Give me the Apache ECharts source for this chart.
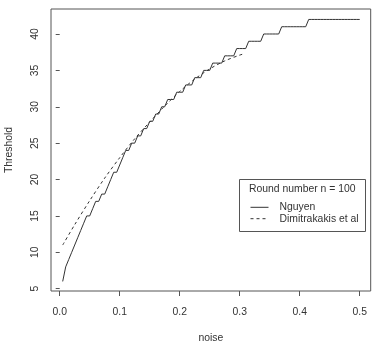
<!DOCTYPE html>
<html>
<head>
<meta charset="utf-8">
<script src="https://cdn.jsdelivr.net/npm/echarts@6/dist/echarts.min.js"></script>
<style>
html,body{margin:0;padding:0;background:#fff;}
#chart{width:377px;height:342px;}
</style>
</head>
<body>
<div id="chart"></div>
<script>
// ---- data ----
const noise = [
0.005,0.010,0.015,0.020,0.025,0.030,0.035,0.040,0.045,0.050,
0.055,0.060,0.065,0.070,0.075,0.080,0.085,0.090,0.095,0.100,
0.105,0.110,0.115,0.120,0.125,0.130,0.135,0.140,0.145,0.150,
0.155,0.160,0.165,0.170,0.175,0.180,0.185,0.190,0.195,0.200,
0.205,0.210,0.215,0.220,0.225,0.230,0.235,0.240,0.245,0.250,
0.255,0.260,0.265,0.270,0.275,0.280,0.285,0.290,0.295,0.300,
0.305,0.310,0.315,0.320,0.325,0.330,0.335,0.340,0.345,0.350,
0.355,0.360,0.365,0.370,0.375,0.380,0.385,0.390,0.395,0.400,
0.405,0.410,0.415,0.420,0.425,0.430,0.435,0.440,0.445,0.450,
0.455,0.460,0.465,0.470,0.475,0.480,0.485,0.490,0.495,0.500];
const nguyen = [
6,8,9,10,11,12,13,14,15,15,
16,17,17,18,18,19,20,21,21,22,
23,24,24,25,25,26,26,27,27,28,
28,29,29,30,30,31,31,31,32,32,
32,33,33,33,34,34,34,35,35,35,
36,36,36,36,37,37,37,37,38,38,
38,38,39,39,39,39,39,40,40,40,
40,40,40,41,41,41,41,41,41,41,
41,41,42,42,42,42,42,42,42,42,
42,42,42,42,42,42,42,42,42,42];
const dimNoise = [0.005,0.025,0.05,0.075,0.1,0.125,0.15,0.175,0.2,0.225,0.25,0.275,0.3,0.306];
const dimitrakakis = [11.0,13.8,17.1,20.2,23.0,25.6,27.9,30.1,32.1,33.8,35.2,36.3,37.1,37.25];
const xTicks = [0,0.1,0.2,0.3,0.4,0.5];
const yTicks = [5,10,15,20,25,30,35,40];
const seriesNames = ['Nguyen','Dimitrakakis et al'];
const legendTitle = 'Round number n = 100';

const FONT = '"Liberation Sans", Arial, sans-serif';
const TXT = '#333';
const chart = echarts.init(document.getElementById('chart'), null, {renderer:'canvas'});
chart.setOption({
  animation:false,
  backgroundColor:'#fff',
  textStyle:{fontFamily:FONT},
  title:{
    text:legendTitle, left:249, top:183.5, padding:0,
    textStyle:{fontSize:10.4, fontWeight:'normal', color:TXT, fontFamily:FONT, lineHeight:12}
  },
  grid:{left:51, top:9, right:6.3, bottom:51, show:true, borderColor:'#555', borderWidth:1,
        backgroundColor:'transparent', containLabel:false, outerBoundsMode:'none'},
  xAxis:{
    type:'value', min:-0.0145, max:0.5183,
    name:'noise', nameLocation:'middle', nameGap:42,
    nameTextStyle:{fontSize:10.4, color:TXT, fontFamily:FONT},
    axisLine:{show:false},
    axisTick:{show:true, length:5, customValues:xTicks, lineStyle:{color:'#555'}},
    axisLabel:{customValues:xTicks, margin:16, fontSize:10.4, color:TXT, fontFamily:FONT,
      formatter:v=>v.toFixed(1)},
    splitLine:{show:false}
  },
  yAxis:{
    type:'value', min:4.684, max:43.435,
    name:'Threshold', nameLocation:'middle', nameGap:37,
    nameTextStyle:{fontSize:10.4, color:TXT, fontFamily:FONT},
    axisLine:{show:false},
    axisTick:{show:true, length:4, customValues:yTicks, lineStyle:{color:'#555'}},
    axisLabel:{customValues:yTicks, rotate:90, margin:11, fontSize:10.4, color:TXT, fontFamily:FONT},
    splitLine:{show:false}
  },
  legend:{
    orient:'vertical', left:250, top:201.6, padding:0, itemGap:0,
    itemWidth:18, itemHeight:10,
    data:seriesNames,
    itemStyle:{opacity:0},
    lineStyle:{width:1},
    textStyle:{fontSize:10.4, color:TXT, fontFamily:FONT, lineHeight:11.4, padding:[0,0,0,6]}
  },
  graphic:[{
    type:'rect', shape:{x:239.5, y:179.5, width:126, height:52},
    style:{fill:'none', stroke:'#555', lineWidth:1}, silent:true
  }],
  series:[
    {name:seriesNames[0], type:'line', symbol:'none',
     data:noise.map((x,i)=>[x,nguyen[i]]),
     lineStyle:{color:'#333', width:1}, itemStyle:{color:'#333'}},
    {name:seriesNames[1], type:'line', symbol:'none', smooth:0.3,
     data:dimNoise.map((x,i)=>[x,dimitrakakis[i]]),
     lineStyle:{color:'#333', width:1, type:[3,3]}, itemStyle:{color:'#333'}}
  ]
});
</script>
</body>
</html>
